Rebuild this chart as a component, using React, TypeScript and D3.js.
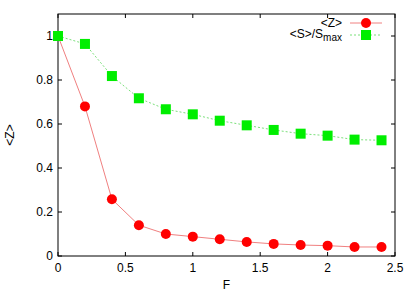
import * as d3 from "d3";
import { useEffect, useRef } from "react";

// F values shared by both series
const fValues = [0, 0.2, 0.4, 0.6, 0.8, 1.0, 1.2, 1.4, 1.6, 1.8, 2.0, 2.2, 2.4];
const zValues = [1.0, 0.68, 0.258, 0.14, 0.1, 0.088, 0.076, 0.064, 0.055, 0.05, 0.047, 0.041, 0.041];
const sValues = [1.0, 0.964, 0.818, 0.717, 0.667, 0.644, 0.615, 0.594, 0.573, 0.556, 0.547, 0.529, 0.526];
const xTicks = [0, 0.5, 1, 1.5, 2, 2.5];
const yTicks = [0, 0.2, 0.4, 0.6, 0.8, 1];

const App = () => {
  const ref = useRef<SVGSVGElement>(null);

  useEffect(() => {
    const width = 415, height = 291;
    const m = { left: 58, right: 20, top: 14, bottom: 35 };
    const svg = d3.select(ref.current);
    svg.selectAll("*").remove();
    svg.attr("width", width).attr("height", height);

    const font = "'Liberation Sans', Arial, sans-serif";
    const x = d3.scaleLinear().domain([0, 2.5]).range([m.left, width - m.right]);
    const y = d3.scaleLinear().domain([0, 1.1]).range([height - m.bottom, m.top]);

    const g = svg.append("g");

    // frame
    g.append("rect")
      .attr("x", x(0)).attr("y", y(1.1))
      .attr("width", x(2.5) - x(0)).attr("height", y(0) - y(1.1))
      .attr("fill", "none").attr("stroke", "#000").attr("stroke-width", 1);

    // inward ticks, mirrored
    const tl = 4;
    xTicks.forEach(t => {
      g.append("line").attr("x1", x(t)).attr("x2", x(t)).attr("y1", y(0)).attr("y2", y(0) - tl).attr("stroke", "#000");
      g.append("line").attr("x1", x(t)).attr("x2", x(t)).attr("y1", y(1.1)).attr("y2", y(1.1) + tl).attr("stroke", "#000");
      g.append("text").attr("x", x(t)).attr("y", y(0) + 16).attr("text-anchor", "middle")
        .attr("font-family", font).attr("font-size", 12).text(String(t));
    });
    yTicks.forEach(t => {
      g.append("line").attr("x1", x(0)).attr("x2", x(0) + tl).attr("y1", y(t)).attr("y2", y(t)).attr("stroke", "#000");
      g.append("line").attr("x1", x(2.5)).attr("x2", x(2.5) - tl).attr("y1", y(t)).attr("y2", y(t)).attr("stroke", "#000");
      g.append("text").attr("x", x(0) - 5).attr("y", y(t) + 4).attr("text-anchor", "end")
        .attr("font-family", font).attr("font-size", 12).text(String(t));
    });

    // axis labels
    g.append("text").attr("x", x(1.25)).attr("y", 289).attr("text-anchor", "middle")
      .attr("font-family", font).attr("font-size", 12).text("F");
    g.append("text").attr("transform", `translate(14,${y(0.55)}) rotate(-90)`).attr("text-anchor", "middle")
      .attr("font-family", font).attr("font-size", 12).text("<Z>");

    const line = d3.line<number>().x((_, i) => x(fValues[i]));

    // <Z> series (red)
    g.append("path").datum(zValues)
      .attr("d", line.y(d => y(d)))
      .attr("fill", "none").attr("stroke", "#f08080").attr("stroke-width", 1);
    g.selectAll("circle.z").data(zValues).enter().append("circle").attr("class", "z")
      .attr("cx", (_, i) => x(fValues[i])).attr("cy", d => y(d))
      .attr("r", 5).attr("fill", "#ff0000");

    // <S>/Smax series (dashed green), drawn over the red one
    g.append("path").datum(sValues)
      .attr("d", line.y(d => y(d)))
      .attr("fill", "none").attr("stroke", "#7be07b").attr("stroke-width", 1).attr("stroke-dasharray", "2,2");
    g.selectAll("rect.s").data(sValues).enter().append("rect").attr("class", "s")
      .attr("x", (_, i) => x(fValues[i]) - 5).attr("y", d => y(d) - 5)
      .attr("width", 10).attr("height", 10).attr("fill", "#00ee00");

    // legend
    const lx1 = 350, lx2 = 382, lxm = 366;
    const r1 = 23, r2 = 35;
    g.append("line").attr("x1", lx1).attr("x2", lx2).attr("y1", r1).attr("y2", r1).attr("stroke", "#f08080");
    g.append("circle").attr("cx", lxm).attr("cy", r1).attr("r", 5).attr("fill", "#ff0000");
    g.append("line").attr("x1", lx1).attr("x2", lx2).attr("y1", r2).attr("y2", r2)
      .attr("stroke", "#7be07b").attr("stroke-dasharray", "2,2");
    g.append("rect").attr("x", lxm - 5).attr("y", r2 - 5).attr("width", 10).attr("height", 10).attr("fill", "#00ee00");

    g.append("text").attr("x", 342).attr("y", r1 + 4).attr("text-anchor", "end")
      .attr("font-family", font).attr("font-size", 12).text("<Z>");
    const t2 = g.append("text").attr("x", 342).attr("y", r2 + 3).attr("text-anchor", "end")
      .attr("font-family", font).attr("font-size", 12);
    t2.append("tspan").text("<S>/S");
    t2.append("tspan").attr("dy", 3).attr("font-size", 10).text("max");
  }, []);

  return (
    <div style={{ position: "absolute", left: 0, top: 0 }}>
      <svg ref={ref} style={{ display: "block", background: "#fff" }}></svg>
    </div>
  );
};

export default App;
